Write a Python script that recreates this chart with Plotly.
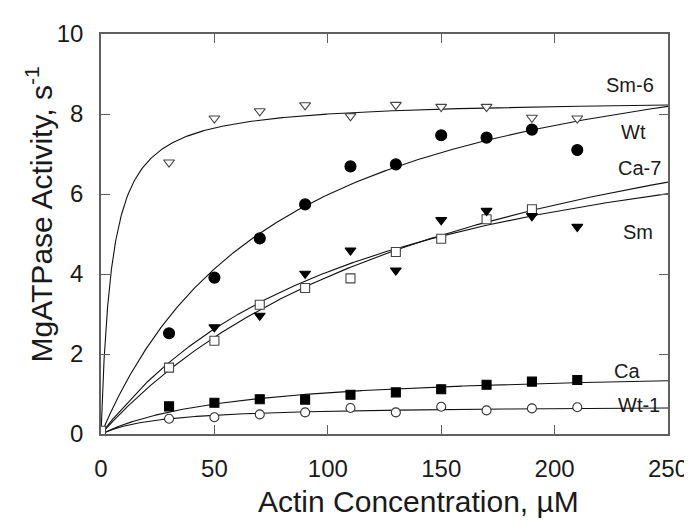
import numpy as np
import plotly.graph_objects as go

# ---- data ----
actin = [30, 50, 70, 90, 110, 130, 150, 170, 190, 210]

sm6_y = [6.79, 7.89, 8.07, 8.22, 7.95, 8.23, 8.18, 8.18, 7.91, 7.89]
wt_y = [2.52, 3.91, 4.89, 5.74, 6.69, 6.74, 7.47, 7.41, 7.61, 7.10]
ca7_x = [0, 30, 50, 70, 90, 110, 130, 150, 170, 190]
ca7_y = [0.08, 1.66, 2.33, 3.23, 3.65, 3.89, 4.55, 4.88, 5.37, 5.62]
sm_x = [50, 70, 90, 110, 130, 150, 170, 190, 210]
sm_y = [2.67, 2.96, 4.01, 4.59, 4.09, 5.35, 5.58, 5.45, 5.18]
ca_y = [0.69, 0.78, 0.87, 0.86, 0.98, 1.04, 1.12, 1.23, 1.31, 1.35]
wt1_y = [0.38, 0.42, 0.49, 0.54, 0.65, 0.54, 0.68, 0.59, 0.64, 0.67]

# Michaelis-Menten fit parameters (Vmax, Km) for each curve
fit_names = ["Sm-6", "Wt", "Ca-7", "Sm", "Ca", "Wt-1"]
fit_vmax = [8.38, 10.86, 10.51, 8.85, 1.65, 0.72]
fit_km = [4.76, 81.5, 167.2, 118.3, 60.0, 26.8]

# label positions in data units
label_text = ["Sm-6", "Wt", "Ca-7", "Sm", "Ca", "Wt-1"]
label_x = [233.2, 235.0, 237.4, 236.7, 231.7, 237.2]
label_y = [8.72, 7.54, 6.66, 5.06, 1.57, 0.73]

x_ticks = [0, 50, 100, 150, 200, 250]
y_ticks = [0, 2, 4, 6, 8, 10]

FONT = "Arial, Liberation Sans, sans-serif"
TXT = "#1a1a1a"
AX = "#606060"

fig = go.Figure()

xs = np.unique(np.concatenate([np.linspace(0, 10, 201), np.linspace(10, 250, 481)]))
for vm, km in zip(fit_vmax, fit_km):
    fig.add_trace(go.Scatter(x=xs, y=vm * xs / (km + xs), mode="lines",
                             line=dict(color="#111111", width=1.1),
                             hoverinfo="skip", showlegend=False))

def pts(x, y, symbol, size, fill, edge="#222222"):
    fig.add_trace(go.Scatter(x=x, y=y, mode="markers", showlegend=False,
                             marker=dict(symbol=symbol, size=size, color=fill,
                                         line=dict(color=edge, width=1.1))))

pts(actin, sm6_y, "triangle-down", 9.5, "white", "#444444")
pts(actin, wt_y, "circle", 11, "black", "black")
pts(ca7_x, ca7_y, "square", 9, "white", "#444444")
pts(sm_x, sm_y, "triangle-down", 9.5, "black", "black")
pts(actin, ca_y, "square", 9, "black", "black")
pts(actin, wt1_y, "circle", 9, "white", "#333333")

annotations = []
for t, lx, ly in zip(label_text, label_x, label_y):
    annotations.append(dict(x=lx, y=ly, xref="x", yref="y", text=t, showarrow=False,
                            xanchor="center", yanchor="middle",
                            font=dict(family=FONT, size=20, color=TXT)))

annotations.append(dict(x=(414 - 93) / 574, y=(426 - 494) / 403, xref="paper", yref="paper",
                        text="Actin Concentration, µM", showarrow=False,
                        xanchor="center", yanchor="middle",
                        font=dict(family=FONT, size=30, color=TXT)))
annotations.append(dict(x=(30 - 93) / 574, y=(426 - 205) / 403, xref="paper", yref="paper",
                        text="MgATPase Activity, s<sup>-1</sup>", showarrow=False,
                        textangle=-90, xanchor="center", yanchor="middle",
                        font=dict(family=FONT, size=30, color=TXT)))

axis_common = dict(showline=True, mirror="ticks", linecolor=AX, linewidth=1.5,
                   ticks="inside", ticklen=9, tickwidth=1.3, tickcolor=AX,
                   showgrid=False, zeroline=False,
                   tickfont=dict(family=FONT, size=24, color=TXT))

fig.update_layout(
    width=692, height=521,
    margin=dict(l=93, r=25, t=23, b=95, pad=0),
    paper_bgcolor="white", plot_bgcolor="white",
    xaxis=dict(range=[0, 250], tickvals=x_ticks, ticklabelstandoff=12, **axis_common),
    yaxis=dict(range=[0, 10], tickvals=y_ticks, ticklabelstandoff=11, **axis_common),
    annotations=annotations,
    showlegend=False,
)

fig.write_html("out.html")
